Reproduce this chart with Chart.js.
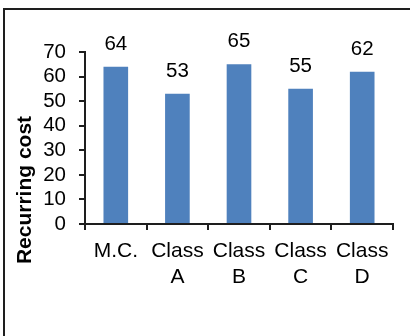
<!DOCTYPE html>
<html>
<head>
<meta charset="utf-8">
<script src="https://cdn.jsdelivr.net/npm/chart.js@4/dist/chart.umd.min.js"></script>
<style>
  html, body { margin: 0; padding: 0; background: #fff; overflow: hidden; }
  #wrap { position: relative; width: 410px; height: 336px; }
  #frame {
    position: absolute; left: 3px; top: 8px; width: 500px; height: 500px;
    border-left: 2px solid #1e1e1e; border-top: 2px solid #1e1e1e;
    box-sizing: border-box; pointer-events: none;
  }
  canvas { position: absolute; left: 0; top: 0; }
</style>
</head>
<body>
<div id="wrap">
  <canvas id="chart" width="410" height="336"></canvas>
  <div id="frame"></div>
</div>
<script>
// Recurring cost per option
const categories = [["M.C."], ["Class", "A"], ["Class", "B"], ["Class", "C"], ["Class", "D"]];
const recurringCost = [64, 53, 65, 55, 62];
const yTicks = [0, 10, 20, 30, 40, 50, 60, 70];
const yTitle = "Recurring cost";

const FONT = "'Liberation Sans', Arial, Helvetica, sans-serif";
const INK = "#1e1e1e";

// value printed above each bar
const valueLabels = {
  id: "valueLabels",
  afterDatasetsDraw(chart) {
    const ctx = chart.ctx;
    const meta = chart.getDatasetMeta(0);
    ctx.save();
    ctx.font = "20.5px " + FONT;
    ctx.fillStyle = "#000";
    ctx.textAlign = "center";
    ctx.textBaseline = "alphabetic";
    meta.data.forEach((bar, i) => {
      ctx.fillText(String(recurringCost[i]), bar.x, bar.y - 17);
    });
    ctx.restore();
  }
};

// rotated axis title on the left
const axisTitle = {
  id: "axisTitle",
  afterDraw(chart) {
    const ctx = chart.ctx;
    ctx.save();
    ctx.translate(25, 190);
    ctx.rotate(-Math.PI / 2);
    ctx.font = "bold 21px " + FONT;
    ctx.fillStyle = "#000";
    ctx.textAlign = "center";
    ctx.textBaseline = "middle";
    ctx.fillText(yTitle, 0, 0);
    ctx.restore();
  }
};

new Chart(document.getElementById("chart"), {
  type: "bar",
  data: {
    labels: categories,
    datasets: [{
      data: recurringCost,
      backgroundColor: "#4F81BD",
      borderWidth: 0,
      categoryPercentage: 1.0,
      barPercentage: 0.4
    }]
  },
  options: {
    responsive: false,
    animation: false,
    devicePixelRatio: 1,
    layout: { padding: { top: 52, right: 17, bottom: 0, left: 0 } },
    plugins: {
      legend: { display: false },
      tooltip: { enabled: false },
      title: { display: false }
    },
    scales: {
      x: {
        grid: {
          display: true,
          drawOnChartArea: false,
          drawTicks: true,
          tickLength: 6,
          lineWidth: 2,
          tickWidth: 2,
          color: INK,
          tickColor: INK,
          offset: true
        },
        border: { display: true, color: INK, width: 2 },
        ticks: {
          color: "#000",
          font: { family: FONT, size: 21, lineHeight: 1.2 },
          padding: 9,
          maxRotation: 0,
          autoSkip: false
        },
        afterFit(scale) { scale.height = 112; }
      },
      y: {
        min: 0,
        max: 70,
        afterBuildTicks(scale) { scale.ticks = yTicks.map(v => ({ value: v })); },
        grid: {
          display: true,
          drawOnChartArea: false,
          drawTicks: true,
          tickLength: 6,
          lineWidth: 2,
          tickWidth: 2,
          color: INK,
          tickColor: INK
        },
        border: { display: true, color: INK, width: 2 },
        ticks: {
          color: "#000",
          font: { family: FONT, size: 20.5 },
          padding: 13,
          autoSkip: false
        },
        afterFit(scale) { scale.width = 85; }
      }
    }
  },
  plugins: [valueLabels, axisTitle]
});
</script>
</body>
</html>
